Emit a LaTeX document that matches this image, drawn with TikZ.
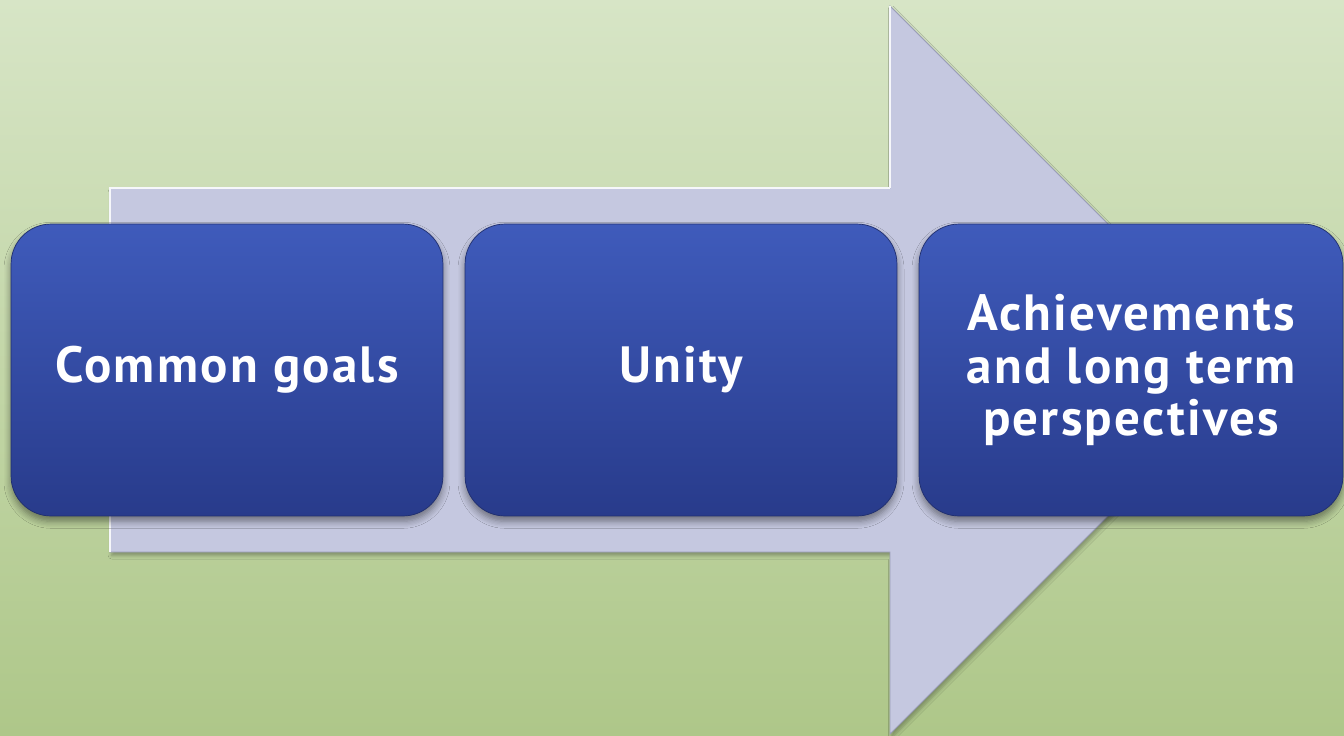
\documentclass[tikz,border=0pt]{standalone}
\usepackage{fontspec}
\newfontfamily\boxfont[LetterSpace=4.5]{PT Sans}
\usetikzlibrary{shadows.blur}
\definecolor{bgtop}{HTML}{D7E5C6}
\definecolor{bgbot}{HTML}{AEC789}
\definecolor{arrowfill}{HTML}{C5C8E0}
\definecolor{arrowedge}{HTML}{9A9DB8}
\definecolor{boxtop}{HTML}{3F5BBB}
\definecolor{boxbot}{HTML}{283B8B}
\begin{document}
\begin{tikzpicture}[x=0.02cm,y=-0.02cm,
  stagebox/.style={rounded corners=0.8cm, minimum width=8.64cm, minimum height=5.84cm,
    top color=boxtop, bottom color=boxbot, draw=boxbot!80!black, line width=0.4pt,
    text=white, align=center, inner sep=0pt,
    font=\boxfont\bfseries\fontsize{29}{30}\selectfont,
    blur shadow={shadow xshift=0pt, shadow yshift=-3pt, shadow blur steps=6, shadow opacity=45, shadow blur radius=4pt}},
  bigarrow/.style={fill=arrowfill, draw=arrowedge, line width=0.5pt,
    blur shadow={shadow xshift=1pt, shadow yshift=-2pt, shadow blur steps=5, shadow opacity=30, shadow blur radius=2pt}}]
  % page and background
  \useasboundingbox (0,0) rectangle (1344,735);
  \shade[top color=bgtop, bottom color=bgbot] (0,0) rectangle (1344,735);
  % wide block arrow behind the stages
  \path[bigarrow] (110,188) -- (890,188) -- (890,6) -- (1254,370)
    -- (890,734) -- (890,552) -- (110,552) -- cycle;
  % light bevel on the left edges
  \draw[white!85!arrowfill, line width=0.8pt] (110,552) -- (110,188) -- (890,188);
  \draw[white!85!arrowfill, line width=0.8pt] (890,188) -- (890,6);
  % stages
  \node[stagebox] (goals) at (227,370) {Common goals};
  \node[stagebox] (unity) at (681,370) {Unity};
  \node[stagebox, minimum width=8.48cm] (achieve) at (1131,370)
    {Achievements\\and long term\\perspectives};
\end{tikzpicture}
\end{document}
